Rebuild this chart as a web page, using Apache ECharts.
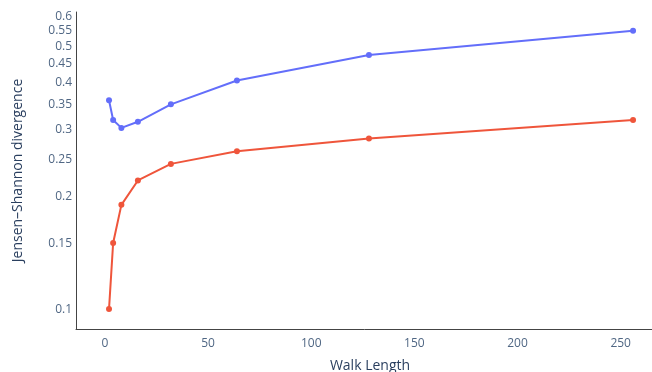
<!DOCTYPE html>
<html>
<head>
<meta charset="utf-8">
<script src="https://cdn.jsdelivr.net/npm/echarts@6/dist/echarts.min.js"></script>
<style>
html,body{margin:0;padding:0;background:#fff;}
#chart{width:652px;height:372px;}
</style>
</head>
<body>
<div id="chart"></div>
<script>
const walkLengths = [2, 4, 8, 16, 32, 64, 128, 256];
const blueSeries = [0.360, 0.319, 0.304, 0.3155, 0.351, 0.406, 0.4745, 0.550];
const redSeries = [0.1005, 0.1505, 0.190, 0.2205, 0.244, 0.2635, 0.285, 0.319];
const xTicks = [0, 50, 100, 150, 200, 250];
const yTicks = [0.1, 0.15, 0.2, 0.25, 0.3, 0.35, 0.4, 0.45, 0.5, 0.55, 0.6];

const chart = echarts.init(document.getElementById('chart'), null, {renderer: 'canvas'});
const labelColor = '#506784';
const font = '"Open Sans", "Noto Sans", sans-serif';
chart.setOption({
  animation: false,
  backgroundColor: '#fff',
  grid: {left: 76, width: 588, top: 12, bottom: 43, containLabel: false, outerBoundsMode: 'none'},
  xAxis: {
    type: 'value',
    min: -14, max: 271,
    name: 'Walk Length',
    nameLocation: 'middle',
    nameGap: 30,
    nameTextStyle: {color: '#2a3f5f', fontSize: 14, fontFamily: font},
    axisLine: {show: true, onZero: false, lineStyle: {color: '#444', width: 1}},
    axisTick: {show: false},
    splitLine: {show: false},
    axisLabel: {customValues: xTicks, color: labelColor, fontSize: 12, fontFamily: font, margin: 9}
  },
  yAxis: {
    type: 'log',
    logBase: 10,
    min: 0.089, max: 0.617,
    name: 'Jensen–Shannon divergence',
    nameLocation: 'middle',
    nameGap: 51,
    nameTextStyle: {color: '#2a3f5f', fontSize: 14, fontFamily: font},
    axisLine: {show: true, onZero: false, lineStyle: {color: '#444', width: 1}},
    axisTick: {show: false},
    splitLine: {show: false},
    axisLabel: {customValues: yTicks, color: labelColor, fontSize: 12, fontFamily: font, margin: 4,
      formatter: v => String(+v.toFixed(2))}
  },
  series: [
    {type: 'line', data: walkLengths.map((x, i) => [x, blueSeries[i]]), symbol: 'circle', symbolSize: 6,
     itemStyle: {color: '#636efa'}, lineStyle: {color: '#636efa', width: 2}},
    {type: 'line', data: walkLengths.map((x, i) => [x, redSeries[i]]), symbol: 'circle', symbolSize: 6,
     itemStyle: {color: '#ef553b'}, lineStyle: {color: '#ef553b', width: 2}}
  ]
});
</script>
</body>
</html>
